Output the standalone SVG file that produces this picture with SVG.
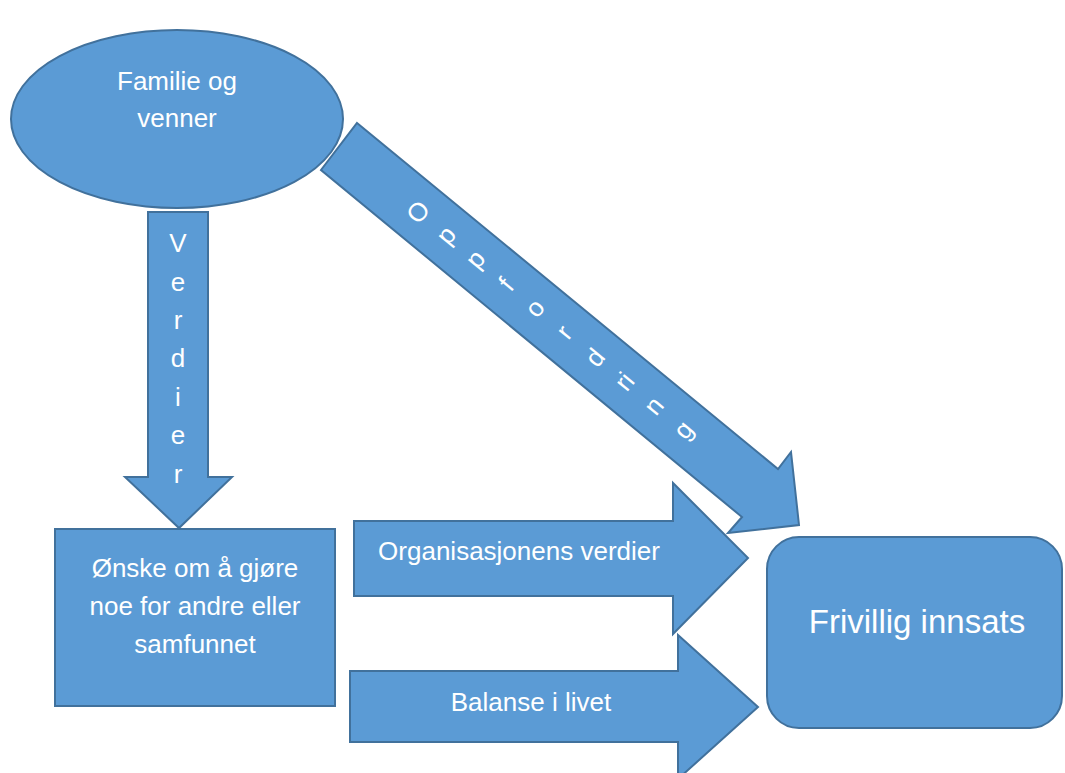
<svg xmlns="http://www.w3.org/2000/svg" width="1065" height="773" viewBox="0 0 1065 773">
<style>
.shape{fill:#5B9BD5;stroke:#41719C;stroke-width:2;stroke-linejoin:miter}
.t{fill:#FFFFFF;font-family:"Liberation Sans",Arial,sans-serif;font-size:26px;text-anchor:middle}
</style>
<rect width="1065" height="773" fill="#FFFFFF"/>
<g id="connectors">
<g id="arrow-verdier">
<path class="shape" d="M148,212 L208,212 L208,477 L232,477 L179,528 L125,477 L148,477 Z"/>
<text class="t" x="178" y="252">V</text>
<text class="t" x="178" y="291">e</text>
<text class="t" x="178" y="329">r</text>
<text class="t" x="178" y="367">d</text>
<text class="t" x="178" y="406">i</text>
<text class="t" x="178" y="444">e</text>
<text class="t" x="178" y="483">r</text>
</g>
<g id="arrow-oppfordring">
<path class="shape" d="M357,123 L778,469 L791,452 L799,525 L728,533 L742,517 L321,170 Z"/>
<g transform="translate(418,212) rotate(-50.6)">
<text class="t" x="0" y="9">O</text>
<text class="t" x="0" y="45">p</text>
<text class="t" x="0" y="83">p</text>
<text class="t" x="0" y="123">f</text>
<text class="t" x="0" y="160">o</text>
<text class="t" x="0" y="198">r</text>
<text class="t" x="0" y="238">d</text>
<text class="t" x="0" y="276">ri</text>
<text class="t" x="0" y="314">n</text>
<text class="t" x="0" y="352">g</text>
</g>
</g>
<g id="arrow-org">
<path class="shape" d="M354,521 L673,521 L673,483 L748,558 L673,634 L673,596 L354,596 Z"/>
<text class="t" x="519" y="560">Organisasjonens verdier</text>
</g>
<g id="arrow-balanse">
<path class="shape" d="M350,671 L678,671 L678,635 L758,707 L678,779 L678,742 L350,742 Z"/>
<text class="t" x="531" y="711">Balanse i livet</text>
</g>
</g>
<g id="node-familie">
<ellipse class="shape" cx="177" cy="119" rx="166" ry="89"/>
<text class="t" x="177" y="90">Familie og</text>
<text class="t" x="177" y="127">venner</text>
</g>
<g id="node-onske">
<rect class="shape" x="55" y="529" width="280" height="177"/>
<text class="t" x="195" y="577">Ønske om å gjøre</text>
<text class="t" x="195" y="615">noe for andre eller</text>
<text class="t" x="195" y="653">samfunnet</text>
</g>
<g id="node-frivillig">
<rect class="shape" x="767" y="537" width="295" height="191" rx="32" ry="32"/>
<text class="t" x="917" y="633" style="font-size:33px">Frivillig innsats</text>
</g>
</svg>
